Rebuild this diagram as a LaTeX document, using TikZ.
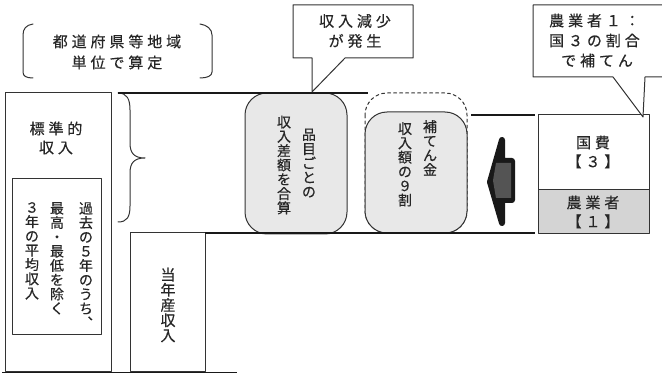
\documentclass[tikz,border=0pt]{standalone}
\usepackage{fontspec}
\usepackage{tikz}
\newfontfamily\jph[LetterSpace=26,FakeBold=0.4]{Noto Sans CJK JP}
\newfontfamily\jpv[FakeBold=0.4]{Noto Sans CJK JP}
\definecolor{inkgray}{rgb}{0.2,0.2,0.2}
\definecolor{boxgray}{rgb}{0.91,0.91,0.91}
\definecolor{cellgray}{rgb}{0.83,0.83,0.83}
\definecolor{arrowgray}{rgb}{0.33,0.33,0.33}
\begin{document}
\begin{tikzpicture}[x=1pt,y=-1pt,line cap=round,line join=round,
  frameline/.style={draw=inkgray,line width=1pt},
  heavyline/.style={draw=black!90,line width=2.6pt,line cap=butt},
  htext/.style={inner sep=0pt,text=black!85,align=center,font=\jph\fontsize{15}{20}\selectfont},
  vtext/.style={inner sep=0pt,text=black!85,align=center,font=\jpv\fontsize{14}{14.3}\selectfont},
  roundbox/.style={frameline,fill=boxgray,rounded corners=22pt}]
\useasboundingbox (0,0) rectangle (662,374);
\draw[frameline] (33,24) .. controls (26,25) and (23,29) .. (23,35) -- (23,72) .. controls (23,76) and (26,78) .. (33,78);
\draw[frameline] (200,24) .. controls (207,25) and (212,29) .. (212,35) -- (212,72) .. controls (212,76) and (207,78) .. (200,78);
\node[htext,font=\jph\fontsize{15}{21}\selectfont] (santei) at (117,52) {都道府県等地域\\単位で算定};
\draw[frameline] (5,93) rectangle (111,372);
\node[htext,font=\jph\fontsize{15}{19}\selectfont] (hyojun) at (56,138) {標準的\\収入};
\draw[frameline] (12,179) rectangle (101,335);
\node[vtext,anchor=north] (kako) at (86,202) {過\\去\\の\\５\\年\\の\\う\\ち\\︑};
\node[vtext,anchor=north] (saiko) at (57,202) {最\\高\\・\\最\\低\\を\\除\\く};
\node[vtext,anchor=north] (heikin) at (32,202) {３\\年\\の\\平\\均\\収\\入};
\draw[frameline] (118,93) .. controls (127,93) and (130,99) .. (130,110) -- (130,143) .. controls (130,153) and (134,158) .. (145,158) .. controls (134,158) and (130,163) .. (130,173) -- (130,206) .. controls (130,217) and (127,222) .. (118,222);
\draw[frameline] (130,233) rectangle (205,372);
\node[vtext,anchor=center,font=\jpv\fontsize{15}{15.2}\selectfont] (tonen) at (168,305) {当\\年\\産\\収\\入};
\draw[roundbox] (245,93) rectangle (347,234);
\node[vtext] (hinmoku) at (309,163) {品\\目\\ご\\と\\の};
\node[vtext] (sagaku) at (284,165) {収\\入\\差\\額\\を\\合\\算};
\draw[frameline,dashed,rounded corners=22pt] (365,93) rectangle (467,233);
\draw[roundbox] (365,112) rectangle (467,233);
\node[vtext,anchor=north] (hoten) at (430,120) {補\\て\\ん\\金};
\node[vtext,anchor=north] (kyuwari) at (405,122) {収\\入\\額\\の\\９\\割};
\draw[heavyline] (118,93) -- (368,93);
\draw[heavyline] (205,233) -- (535,233);
\draw[heavyline] (471,115) -- (535,115);
\draw[heavyline,line width=1.8pt] (2,372.5) -- (237,372.5);
\draw[fill=black!90,draw=black!90,line width=6pt] (502,140) -- (502,161) -- (512,161) -- (512,200) -- (502,200) -- (502,223) -- (490,182) -- cycle;
\fill[arrowgray] (496,163) -- (511,163) -- (511,198) -- (496,198) -- (493,180.5) -- cycle;
\draw[frameline] (538,115) rectangle (649,190);
\draw[frameline,fill=cellgray] (538,190) rectangle (649,234);
\node[htext,font=\jph\fontsize{15}{19}\selectfont] (kokuhi) at (593,152) {国費\\【３】};
\node[htext,font=\jph\fontsize{15}{19}\selectfont] (nogyo) at (593,212) {農業者\\【１】};
\draw[frameline,fill=white] (293,5) -- (413,5) -- (413,58) -- (345,58) -- (312,92) -- (312,58) -- (293,58) -- cycle;
\node[htext] (gensho) at (355,31) {収入減少\\が発生};
\draw[frameline,fill=white] (662,5) -- (533,5) -- (533,77) -- (613,77) -- (643,117) -- (645,77) -- (662,77);
\node[htext,align=left,anchor=west] (wariai) at (549,40.5) {農業者１：\\国３の割合\\\hspace{12pt}で補てん};
\end{tikzpicture}
\end{document}
